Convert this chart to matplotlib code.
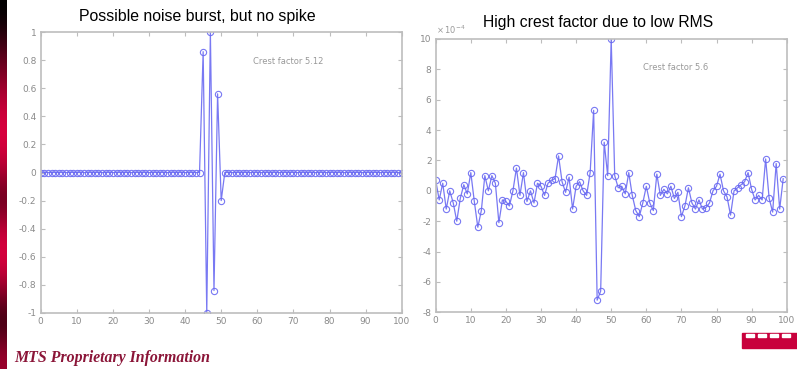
import numpy as np
import matplotlib
matplotlib.use("Agg")
import matplotlib.pyplot as plt
from matplotlib.patches import Rectangle
from matplotlib.colors import LinearSegmentedColormap

# ---------------- data ----------------
left_title = "Possible noise burst, but no spike"
right_title = "High crest factor due to low RMS"
left_note = "Crest factor 5.12"
right_note = "Crest factor 5.6"
footer = "MTS Proprietary Information"

left_x = list(range(0, 101))
left_y = ([0.0] * 45 +
          [0.86, -1.0, 1.0, -0.84, 0.56, -0.2] +
          [0.0] * 50)

right_x = list(range(0, 100))
right_y = [0.7, -0.6, 0.5, -1.2, 0.0, -0.8, -2.0, -0.5, 0.4, -0.2,
           1.2, -0.7, -2.4, -1.3, 1.0, 0.0, 1.0, 0.5, -2.1, -0.6,
           -0.7, -1.0, 0.0, 1.5, -0.3, 1.2, -0.7, 0.0, -0.8, 0.5,
           0.3, -0.3, 0.5, 0.7, 0.8, 2.3, 0.6, -0.1, 0.9, -1.2,
           0.3, 0.6, 0.0, -0.3, 1.2, 5.3, -7.2, -6.6, 3.2, 1.0,
           10.0, 1.0, 0.2, 0.3, -0.2, 1.2, -0.3, -1.3, -1.7, -0.8,
           0.3, -0.8, -1.3, 1.1, -0.3, 0.1, -0.2, 0.3, -0.5, -0.1,
           -1.7, -1.0, 0.2, -0.8, -1.2, -0.6, -1.2, -1.1, -0.8, 0.0,
           0.3, 1.1, 0.0, -0.4, -1.6, 0.0, 0.2, 0.4, 0.6, 1.2,
           0.1, -0.6, -0.3, -0.6, 2.1, -0.5, -1.4, 1.8, -1.2, 0.8]

x_ticks = [0, 10, 20, 30, 40, 50, 60, 70, 80, 90, 100]
left_yticks = [-1, -0.8, -0.6, -0.4, -0.2, 0, 0.2, 0.4, 0.6, 0.8, 1]
left_ylabels = ["-1", "-0.8", "-0.6", "-0.4", "-0.2", "0", "0.2", "0.4", "0.6", "0.8", "1"]
right_yticks = [-8, -6, -4, -2, 0, 2, 4, 6, 8, 10]
right_ylabels = ["-8", "-6", "-4", "-2", "0", "2", "4", "6", "8", "10"]

# ---------------- style ----------------
W, H = 797, 369
fig = plt.figure(figsize=(W / 100, H / 100), dpi=100)
fig.patch.set_facecolor("white")

line_color = "#6a6af2"
frame_color = "#bdbdbd"
tick_text = "#8a8a8a"


def fx(px):
    return px / W


def fy(py):
    return 1 - py / H


def style_axes(ax):
    for s in ax.spines.values():
        s.set_color(frame_color)
        s.set_linewidth(1.2)
    ax.tick_params(direction="in", length=3, width=0.8, colors=frame_color,
                   labelcolor=tick_text, labelsize=6.5, top=True, right=True,
                   pad=3)
    ax.set_xticks(x_ticks)
    ax.set_xticklabels([str(t) for t in x_ticks])


# left axes
axL = fig.add_axes([40.7 / W, (H - 313) / H, 361 / W, 281 / H])
axL.plot(left_x, left_y, color=line_color, lw=0.9, marker="o", ms=4.5,
         mfc="none", mec=line_color, mew=0.8, alpha=0.9)
axL.set_xlim(0, 100)
axL.set_ylim(-1, 1)
axL.set_yticks(left_yticks)
axL.set_yticklabels(left_ylabels)
style_axes(axL)

# right axes
axR = fig.add_axes([435.7 / W, (H - 312.3) / H, 351 / W, 273.3 / H])
axR.plot(right_x, right_y, color=line_color, lw=0.9, marker="o", ms=4.5,
         mfc="none", mec=line_color, mew=0.8, alpha=0.9)
axR.set_xlim(0, 100)
axR.set_ylim(-8, 10)
axR.set_yticks(right_yticks)
axR.set_yticklabels(right_ylabels)
style_axes(axR)
axR.text(0.0, 1.012, r"$\times\,10^{-4}$", transform=axR.transAxes,
         fontsize=6, color="#999999", va="bottom", ha="left")

# in-plot notes
fig.text(fx(253), fy(62), left_note, fontsize=6, color="#999999", va="center")
fig.text(fx(643), fy(68), right_note, fontsize=6, color="#999999", va="center")

# titles
fig.text(fx(197.5), fy(17), left_title, ha="center", va="center",
         fontsize=11.4, family="Liberation Sans", color="black")
fig.text(fx(598.5), fy(23), right_title, ha="center", va="center",
         fontsize=11.3, family="Liberation Sans", color="black")

# footer
fig.text(fx(14), fy(358), footer, ha="left", va="center", fontsize=11.4,
         family="Liberation Serif", style="italic", weight="bold",
         color="#8b1538")

# left decorative gradient strip
grad = np.array([[0.0], [0.3], [0.6], [0.9], [1.0], [0.8], [0.4], [0.9], [1.0], [0.6], [0.2], [0.7]])
cmap = LinearSegmentedColormap.from_list("rb", ["#000000", "#e00040"])
axS = fig.add_axes([0, 0, 7 / W, 1])
axS.imshow(grad, aspect="auto", cmap=cmap, interpolation="bicubic")
axS.axis("off")

# bottom-right logo fragment
fig.patches.append(Rectangle((fx(742), fy(348)), 55 / W, 15 / H,
                             transform=fig.transFigure, color="#c8003c"))
for px in [746, 758, 770, 782]:
    fig.patches.append(Rectangle((fx(px), fy(337)), 8 / W, 3 / H,
                                 transform=fig.transFigure, color="white"))

fig.savefig("out.png", dpi=100)
